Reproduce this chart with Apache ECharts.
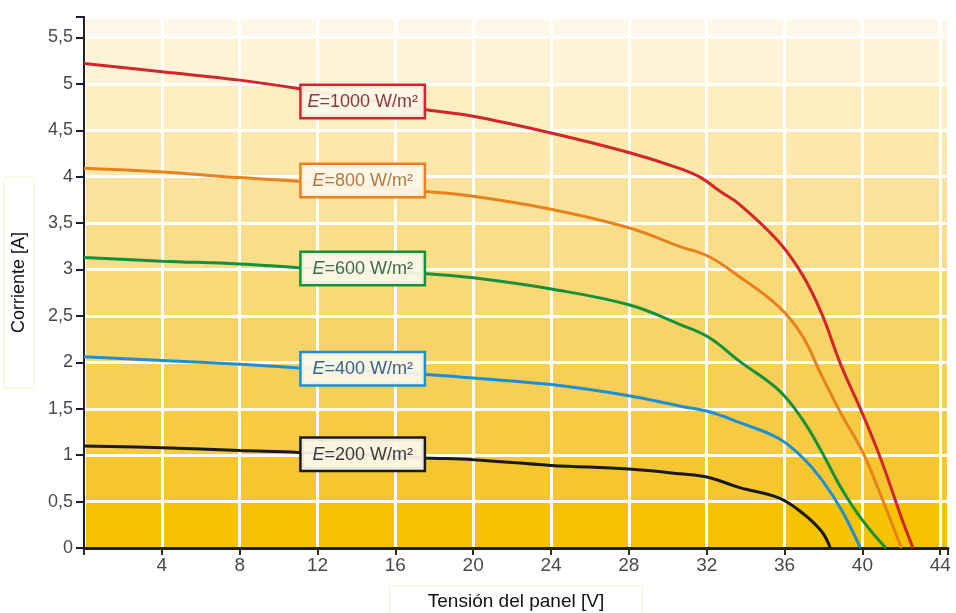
<!DOCTYPE html>
<html><head><meta charset="utf-8">
<script src="https://cdn.jsdelivr.net/npm/echarts@6/dist/echarts.min.js"></script>
<style>html,body{margin:0;padding:0;background:#fff}#c{width:956px;height:613px}</style>
</head><body><div id="c"></div>
<script>
// ---- data (voltage V, current A) ----
const v1000 = [0, 4, 8, 11, 17.6, 20, 24, 28, 30.6, 31.7, 32.7, 33.7, 35.7, 36.9, 37.9, 38.9, 40, 41, 42, 42.6];
const i1000 = [5.22, 5.13, 5.04, 4.95, 4.72, 4.65, 4.47, 4.26, 4.09, 3.99, 3.84, 3.70, 3.30, 2.95, 2.53, 1.97, 1.45, 0.93, 0.33, 0];
const v800 = [0, 4, 8, 11, 17.6, 20, 24, 28, 30.6, 32.1, 33.7, 35.7, 36.9, 37.9, 38.9, 40, 41, 42];
const i800 = [4.09, 4.05, 3.99, 3.95, 3.84, 3.79, 3.65, 3.45, 3.25, 3.14, 2.92, 2.60, 2.29, 1.86, 1.45, 1.04, 0.54, 0];
const v600 = [0, 4, 8, 11, 17.6, 20, 24, 28, 30.6, 32.1, 33.7, 35.7, 36.9, 37.9, 38.9, 40, 41.2];
const i600 = [3.13, 3.09, 3.06, 3.02, 2.955, 2.91, 2.79, 2.62, 2.41, 2.27, 2.01, 1.70, 1.39, 1.04, 0.65, 0.30, 0];
const v400 = [0, 4, 8, 11, 17.6, 20, 24, 28, 30.6, 32.1, 33.7, 35.7, 36.9, 37.9, 38.9, 39.9];
const i400 = [2.06, 2.02, 1.98, 1.94, 1.87, 1.83, 1.76, 1.64, 1.53, 1.47, 1.35, 1.18, 0.98, 0.74, 0.42, 0];
const v200 = [0, 4, 8, 11, 17.6, 20, 24, 28, 30.6, 32.1, 33.7, 35.7, 36.9, 37.9, 38.35];
const i200 = [1.10, 1.08, 1.05, 1.03, 0.97, 0.95, 0.89, 0.85, 0.80, 0.76, 0.65, 0.54, 0.38, 0.18, 0];

const irradiances = ['1000', '800', '600', '400', '200'];
const labelV = [14.32, 14.32, 14.32, 14.32, 14.32];
const labelI = [4.81, 3.96, 3.01, 1.93, 1.01];

const xTickLabels = [4, 8, 12, 16, 20, 24, 28, 32, 36, 40, 44];
const yTickLabels = ['0', '0,5', '1', '1,5', '2', '2,5', '3', '3,5', '4', '4,5', '5', '5,5'];

// ---- styles ----
const lineColors = ['#d3262a', '#e8821f', '#14913a', '#1d8fd5', '#1a1a1a'];
const textColors = ['#8a3a3a', '#b27a40', '#3f6a52', '#35648a', '#3a3a3a'];
const bandColors = ['#f6c300', '#f6c62e', '#f7ca44', '#f7ce56', '#f8d366', '#f9d876', '#fadd88', '#fbe29a', '#fce8ad', '#fdeec2', '#fef3d6', '#fff8e8'];

const pairs = (v, i) => v.map((x, k) => [x, i[k]]);
const seriesData = [pairs(v1000, i1000), pairs(v800, i800), pairs(v600, i600), pairs(v400, i400), pairs(v200, i200)];

const chart = echarts.init(document.getElementById('c'), null, {renderer: 'canvas'});

const series = seriesData.map((d, k) => ({
  type: 'line',
  xAxisIndex: 0, yAxisIndex: 0,
  data: d,
  smooth: 0.4,
  showSymbol: false,
  symbol: 'none',
  lineStyle: {color: lineColors[k], width: 3},
  z: 3,
  markPoint: {
    symbol: 'rect', symbolSize: 1,
    itemStyle: {color: 'rgba(0,0,0,0)'},
    z: 10,
    data: [{coord: [labelV[k], labelI[k]], value: irradiances[k]}],
    label: {
      show: true, position: 'inside',
      formatter: () => '{e|E}{t|=' + irradiances[k] + ' W/m²}',
      backgroundColor: 'rgba(252,247,234,0.93)',
      borderColor: lineColors[k], borderWidth: 2.5,
      padding: [7, 6, 6, 6],
      width: 110, align: 'center',
      rich: {
        e: {fontStyle: 'italic', fontSize: 18, color: textColors[k], fontFamily: 'Liberation Sans Narrow, Liberation Sans, sans-serif'},
        t: {fontSize: 18, color: textColors[k], fontFamily: 'Liberation Sans Narrow, Liberation Sans, sans-serif'}
      }
    }
  }
}));

const yIdx = v => Math.round(v * 2);
chart.setOption({
  animation: false,
  backgroundColor: '#ffffff',
  grid: {left: 84, right: 8, top: 17, bottom: 65, containLabel: false, outerBoundsMode: 'none'},
  xAxis: [{
    type: 'value', min: 0, max: 44.4, interval: 4,
    name: 'Tensión del panel [V]', nameLocation: 'middle', nameGap: 38,
    nameTextStyle: {fontSize: 19, color: '#111', fontFamily: 'Liberation Sans, sans-serif',
      borderColor: '#fbf1c6', borderWidth: 1, padding: [6, 38, 8, 38]},
    axisLine: {show: true, lineStyle: {color: '#2a1c08', width: 3}},
    axisTick: {show: true, length: 7, lineStyle: {color: '#2a2a2a', width: 2}},
    axisLabel: {fontSize: 19, color: '#4a4a4a', margin: 8, fontFamily: 'Liberation Sans, sans-serif',
      formatter: v => xTickLabels.indexOf(v) >= 0 ? String(v) : ''},
    splitLine: {show: true, lineStyle: {color: '#ffffff', width: 3}}
  }, {
    type: 'value', position: 'top', min: 0, max: 44.4,
    axisLine: {show: true, lineStyle: {color: '#222', width: 2}},
    axisTick: {show: false}, axisLabel: {show: false}, splitLine: {show: false}
  }],
  yAxis: [{
    type: 'value', min: 0, max: 5.72, interval: 0.5,
    name: 'Corriente [A]', nameLocation: 'middle', nameGap: 50,
    nameTextStyle: {fontSize: 18, color: '#111', fontFamily: 'Liberation Sans, sans-serif',
      borderColor: '#fbf1c6', borderWidth: 1, padding: [6, 55, 6, 55]},
    axisLine: {show: true, lineStyle: {color: '#1e1e1e', width: 2}},
    axisTick: {show: true, length: 8, lineStyle: {color: '#1c1c3a', width: 2}},
    axisLabel: {fontSize: 18, color: '#4a4a4a', margin: 11, fontFamily: 'Liberation Sans, sans-serif',
      formatter: v => {
        const k = yIdx(v);
        return (Math.abs(v * 2 - k) < 1e-6 && k < yTickLabels.length) ? yTickLabels[k] : '';
      }},
    splitLine: {show: true, lineStyle: {color: '#ffffff', width: 3}},
    splitArea: {show: true, areaStyle: {color: bandColors}}
  }, {
    type: 'value', position: 'right', min: 0, max: 5.72,
    axisLine: {show: true, lineStyle: {color: '#222', width: 2}},
    axisTick: {show: false}, axisLabel: {show: false}, splitLine: {show: false}
  }],
  series: series
});
</script></body></html>
